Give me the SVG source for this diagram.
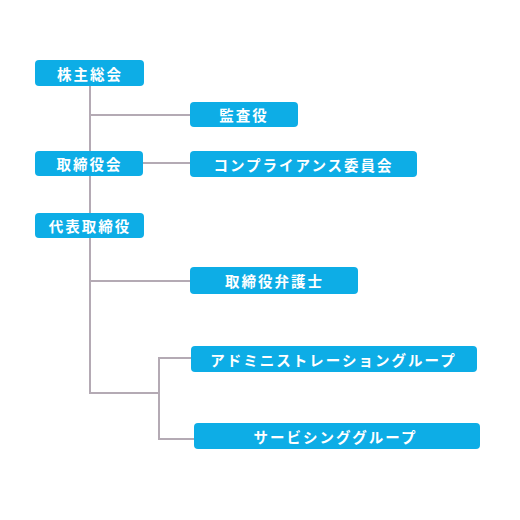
<svg xmlns="http://www.w3.org/2000/svg" width="520" height="520" viewBox="0 0 520 520">
<style>
.box{fill:#0dade6;}
.t{fill:#ffffff;font-family:"Noto Sans CJK JP","Noto Sans",sans-serif;font-weight:bold;font-size:14.5px;letter-spacing:2px;text-anchor:middle;dominant-baseline:central;}
.c{fill:none;stroke:#b4aab4;stroke-width:2;}
</style>
<rect width="520" height="520" fill="#ffffff"/>
<g id="connectors">
<path class="c" d="M90,86 V393 H159"/>
<path class="c" d="M90,115 H190"/>
<path class="c" d="M143,163 H190"/>
<path class="c" d="M90,281 H190"/>
<path class="c" d="M191,358 H159 V439 H194"/>
</g>
<g id="n1"><rect class="box" x="35" y="60" width="109" height="26" rx="4"/><text class="t" x="90" y="73">株主総会</text></g>
<g id="n2"><rect class="box" x="190" y="102" width="108" height="25" rx="4"/><text class="t" x="244" y="114.5">監査役</text></g>
<g id="n3"><rect class="box" x="35" y="151" width="108" height="25" rx="4"/><text class="t" x="89.5" y="163.5">取締役会</text></g>
<g id="n4"><rect class="box" x="190" y="151" width="227" height="26" rx="4"/><text class="t" x="303.5" y="164">コンプライアンス委員会</text></g>
<g id="n5"><rect class="box" x="35" y="213" width="109" height="25" rx="4"/><text class="t" x="90" y="225.5">代表取締役</text></g>
<g id="n6"><rect class="box" x="190" y="267" width="168" height="27" rx="4"/><text class="t" x="274.5" y="280.5">取締役弁護士</text></g>
<g id="n7"><rect class="box" x="191" y="346" width="286" height="26" rx="4"/><text class="t" x="333.5" y="359">アドミニストレーショングループ</text></g>
<g id="n8"><rect class="box" x="194" y="423" width="286" height="26" rx="4"/><text class="t" x="335.5" y="436">サービシンググループ</text></g>
</svg>
